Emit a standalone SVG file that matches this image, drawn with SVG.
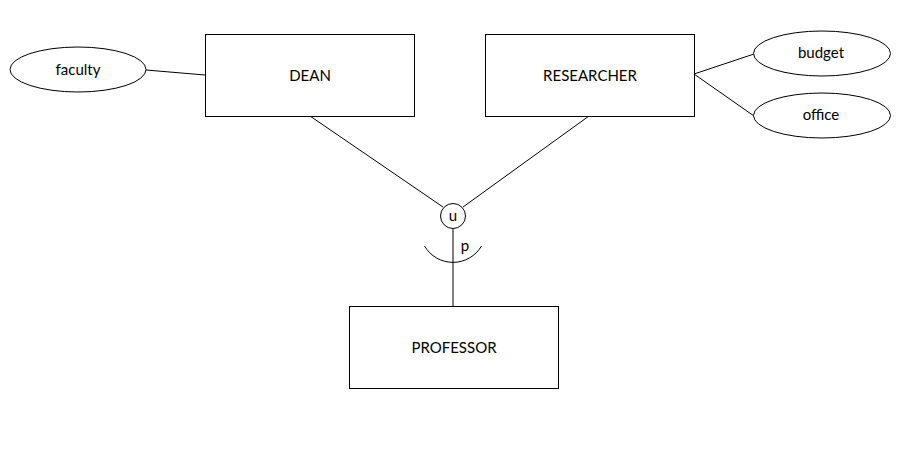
<svg xmlns="http://www.w3.org/2000/svg" width="902" height="451" viewBox="0 0 902 451">
<style>
.box{fill:#fff;stroke:#000;stroke-width:1}
.ell{fill:#fff;stroke:#000;stroke-width:1}
.ln{fill:none;stroke:#000;stroke-width:1}
text{font-family:Lato,"Liberation Sans",Arial,sans-serif;font-size:15px;fill:#000;text-anchor:middle;dominant-baseline:central}
</style>
<rect width="902" height="451" fill="#fff"/>
<g id="connectors">
<line class="ln" x1="146" y1="70" x2="205" y2="75"/>
<line class="ln" x1="694" y1="74" x2="754" y2="54"/>
<line class="ln" x1="694" y1="74" x2="754" y2="116"/>
<line class="ln" x1="310" y1="116" x2="443" y2="207"/>
<line class="ln" x1="589" y1="116" x2="463" y2="207"/>
<line class="ln" x1="453" y1="229" x2="453" y2="306"/>
<path class="ln" d="M424.5,246 A33,33 0 0 0 481.5,246"/>
<text x="465" y="245">p</text>
</g>
<g id="dean"><rect class="box" x="205.5" y="34.5" width="209" height="82"/><text x="310" y="75">DEAN</text></g>
<g id="researcher"><rect class="box" x="485.5" y="34.5" width="209" height="82"/><text x="590" y="75">RESEARCHER</text></g>
<g id="professor"><rect class="box" x="349.5" y="306.5" width="209" height="82"/><text x="454" y="347">PROFESSOR</text></g>
<g id="faculty"><ellipse class="ell" cx="78" cy="69.5" rx="68" ry="22.5"/><text x="78" y="69">faculty</text></g>
<g id="budget"><ellipse class="ell" cx="822" cy="53.5" rx="68.5" ry="22.5"/><text x="821" y="52">budget</text></g>
<g id="office"><ellipse class="ell" cx="822" cy="115.5" rx="68.5" ry="22.5"/><text x="821" y="114">office</text></g>
<g id="union"><circle class="ell" cx="453" cy="216" r="12.5"/><text x="453" y="215">u</text></g>
</svg>
